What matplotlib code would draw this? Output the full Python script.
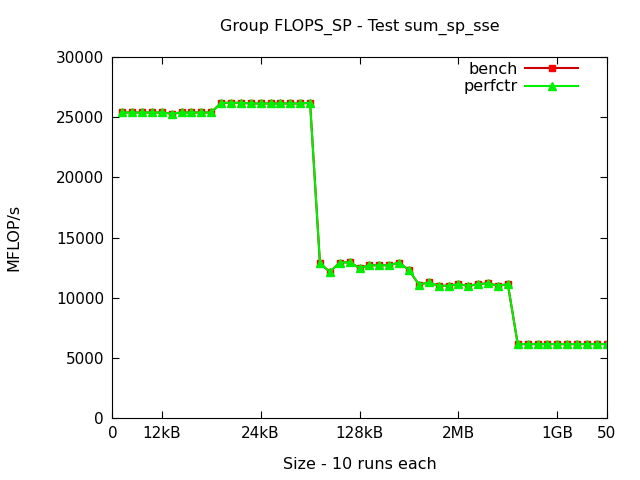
import numpy as np
import matplotlib
matplotlib.use("Agg")
import matplotlib.pyplot as plt

# tamaños 1..50, valores
sizes = list(range(1, 51))
bench = [25400, 25400, 25400, 25400, 25400, 25300, 25400, 25400, 25400, 25400,
         26200, 26200, 26200, 26150, 26150, 26150, 26150, 26150, 26150, 26200,
         12850, 12150, 12930, 12950, 12480, 12700, 12700, 12700, 12930, 12290,
         11100, 11270, 11000, 11000, 11130, 11000, 11130, 11210, 11000, 11130,
         6150, 6150, 6150, 6150, 6150, 6150, 6150, 6150, 6150, 6150]
perfctr = list(bench)

xtick_pos = [0, 5, 15, 25, 35, 45, 50]
xtick_labels = ['0', '12kB', '24kB', '128kB', '2MB', '1GB', '50']

plt.rcParams['font.family'] = 'DejaVu Sans'
fig = plt.figure(figsize=(6.4, 4.8), dpi=100)
ax = fig.add_axes([0.1755, 0.129, 0.7725, 0.752])

ax.plot(sizes, bench, color='#cc0000', lw=1.5, marker='s', ms=5,
        mfc='#ff0000', mec='#ff0000', label='bench')
ax.plot(sizes, perfctr, color='#00ee00', lw=1.5, marker='^', ms=6,
        mfc='#00ee00', mec='#00ee00', label='perfctr')

ax.set_xlim(0, 50)
ax.set_ylim(0, 30000)
ax.set_xticks(xtick_pos)
ax.set_xticklabels(xtick_labels)
ax.set_yticks(range(0, 30001, 5000))
ax.tick_params(direction='in', top=True, right=True, labelsize=11, length=5, pad=6)
ax.set_title('Group FLOPS_SP - Test sum_sp_sse', fontsize=11.5, pad=19)
ax.set_xlabel('Size - 10 runs each', fontsize=11.5, labelpad=11)
ax.set_ylabel('MFLOP/s', fontsize=11.5, labelpad=25)

leg = ax.legend(loc='upper right', frameon=False, fontsize=11.5, markerfirst=False,
                handlelength=3.3, handletextpad=0.5, borderaxespad=0,
                bbox_to_anchor=(0.955, 1.005), labelspacing=0.15)

fig.savefig('out.png')
